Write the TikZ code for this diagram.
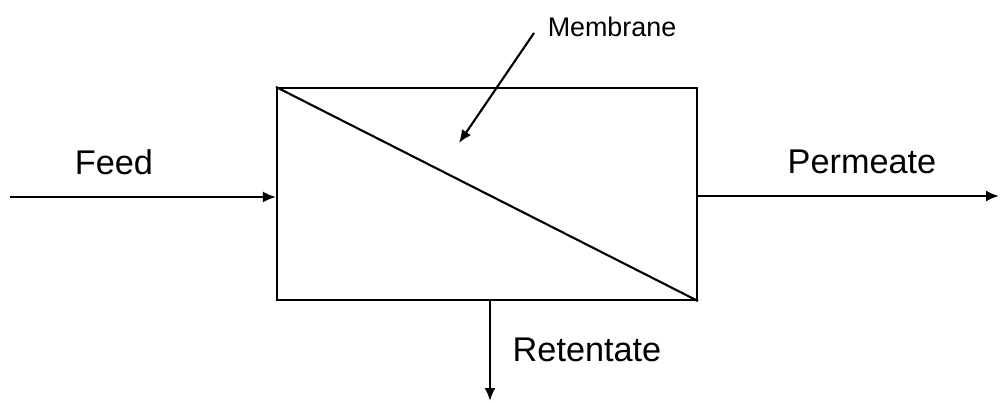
\documentclass[tikz,border=0pt]{standalone}
\usepackage{fontspec}
\setmainfont{Liberation Sans}
\usetikzlibrary{arrows.meta,positioning}
\begin{document}
\begin{tikzpicture}[
    unit/.style={draw, line width=1.2pt, minimum width=8.4cm, minimum height=4.24cm, inner sep=0pt},
    flow/.style={line width=1.2pt, -{Latex[length=2.6mm,width=2.2mm]}},
    every node/.style={font=\fontsize{19.5}{22}\selectfont}
]
\useasboundingbox (0,0) rectangle (20,-8.06);
\node[unit] (box) at (9.74,-3.88) {};
\draw[line width=1.2pt] (box.north west)--(box.south east);

\coordinate (in)  at (0.2,-3.94);
\coordinate (out) at (19.98,-3.92);
\coordinate (ret) at (9.8,-8.02);
\coordinate (tip) at (9.18,-2.86);

\draw[flow] (in)--(in -| box.west);
\draw[flow] (box.east |- out)--(out);
\draw[flow] (ret |- box.south)--(ret);

% Labels
\node (feed) at (2.28,-3.24) {Feed};
\node (perm) at (17.24,-3.24) {Permeate};
\node (rete) at (11.74,-7.0) {Retentate};
\node[font=\fontsize{15.3}{18}\selectfont] (memb) at (12.24,-0.54) {Membrane};
\draw[flow] (10.68,-0.66)--(tip);
\end{tikzpicture}
\end{document}
